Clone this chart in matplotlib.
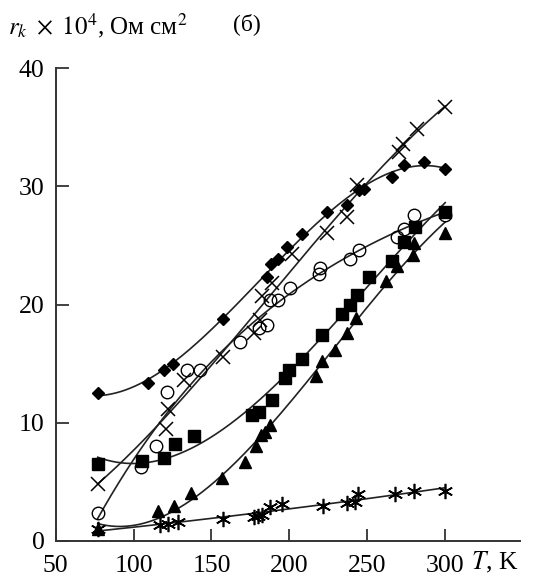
import numpy as np
import matplotlib
matplotlib.use("Agg")
import matplotlib.pyplot as plt

plt.rcParams['font.family'] = ['Liberation Serif', 'DejaVu Serif']
plt.rcParams['mathtext.fontset'] = 'stix'

# --- данные ---
T_diam = [77, 109.5, 119.6, 125.6, 157.7, 185.6, 188.2, 193, 198.5, 208.1, 224.4, 237, 244.5, 247.7, 266, 273.4, 286.3, 300]
r_diam = [12.5, 13.4, 14.5, 15.0, 18.8, 22.3, 23.4, 23.9, 24.9, 26.0, 27.8, 28.4, 29.7, 29.8, 30.8, 31.8, 32.1, 31.5]

T_cross = [77, 120.9, 122.4, 132.5, 157.7, 177, 181.3, 182.4, 188.8, 201.5, 224.2, 237, 243.4, 270.2, 273, 282, 300]
r_cross = [4.8, 9.5, 11.2, 13.6, 15.6, 17.6, 18.7, 20.7, 21.8, 24.3, 26.1, 27.4, 30.1, 32.9, 33.6, 34.9, 36.7]

T_circ = [77, 104.8, 114.5, 121.3, 134.2, 142.7, 168.4, 180.2, 185.6, 187.7, 193, 200.1, 218.8, 219.9, 239.1, 244.5, 269.2, 273.4, 279.8, 300]
r_circ = [2.4, 6.3, 8.0, 12.6, 14.5, 14.5, 16.8, 18.0, 18.3, 20.4, 20.4, 21.4, 22.6, 23.1, 23.9, 24.6, 25.7, 26.4, 27.6, 27.6]

T_sq = [77, 105.3, 119.6, 126.7, 139.1, 176, 180.2, 188.8, 197.4, 199.5, 208.1, 221, 233.8, 238.7, 243.4, 250.9, 266, 273.4, 280.9, 300]
r_sq = [6.5, 6.8, 7.0, 8.2, 8.9, 10.7, 10.9, 11.9, 13.8, 14.5, 15.4, 17.4, 19.2, 19.95, 20.8, 22.3, 23.7, 25.3, 26.6, 27.8]

T_tri = [77, 116, 126.2, 137, 156.7, 171.2, 178.7, 182, 184.5, 187.7, 217.3, 221, 229.5, 237, 243, 262.3, 269.2, 279.4, 279.8, 300]
r_tri = [1.0, 2.5, 3.0, 4.1, 5.3, 6.7, 8.0, 9.0, 9.2, 9.8, 14.0, 15.2, 16.2, 17.6, 18.9, 22.0, 23.3, 24.2, 25.2, 26.1]

T_star = [77, 117, 122.4, 128.8, 157.7, 177, 180, 182.4, 187.7, 195.2, 221.6, 237, 242.4, 243.9, 268, 279.8, 300]
r_star = [1.0, 1.35, 1.45, 1.6, 1.9, 2.05, 2.1, 2.2, 2.9, 3.1, 3.0, 3.2, 3.3, 4.0, 4.0, 4.2, 4.25]

series = [
    (T_diam, r_diam, dict(marker='D', ms=6.5, mfc='k', mec='k'), 3),
    (T_cross, r_cross, dict(marker='x', ms=10, mec='k', mew=1.1), 3),
    (T_circ, r_circ, dict(marker='o', ms=9, mfc='none', mec='k', mew=1.0), 4),
    (T_sq, r_sq, dict(marker='s', ms=8, mfc='k', mec='k'), 3),
    (T_tri, r_tri, dict(marker='^', ms=8, mfc='k', mec='k'), 3),
    (T_star, r_star, dict(marker=(6, 2, 0), ms=11, mec='k', mew=1.2), 2),
]

fig = plt.figure(figsize=(5.35, 5.77), dpi=100)
ax = fig.add_axes([0.104, 0.0624, 0.868, 0.8192])

for T, r, style, deg in series:
    T = np.asarray(T, float)
    r = np.asarray(r, float)
    # сглаживающая кривая по точкам
    coef = np.polyfit(T, r, deg)
    tt = np.linspace(T.min(), T.max(), 300)
    ax.plot(tt, np.polyval(coef, tt), color='#222222', lw=1.2, zorder=2)
    ax.plot(T, r, ls='none', color='k', zorder=3, **style)

ax.set_xlim(50, 348)
ax.set_ylim(0, 40)
ax.set_xticks([50, 100, 150, 200, 250, 300])
ax.set_yticks([0, 10, 20, 30, 40])
ax.spines['top'].set_visible(False)
ax.spines['right'].set_visible(False)
for s in ('left', 'bottom'):
    ax.spines[s].set_color('#333333')
    ax.spines[s].set_linewidth(1.4)
ax.tick_params(direction='in', length=9, width=1.3, color='#333333', labelsize=18.5)
ax.tick_params(axis='x', pad=10)
ax.tick_params(axis='y', pad=8)

fig.text(8 / 535, 1 - 26 / 577, r'$r_k\ \times\ 10^4$, Ом см$^2$', fontsize=18, va='center', ha='left')
fig.text(247 / 535, 1 - 24 / 577, '(б)', fontsize=17, va='center', ha='center')
fig.text(471 / 535, 1 - 562 / 577, r'$T$, K', fontsize=18.5, va='center', ha='left')

fig.savefig('out.png', dpi=100)
